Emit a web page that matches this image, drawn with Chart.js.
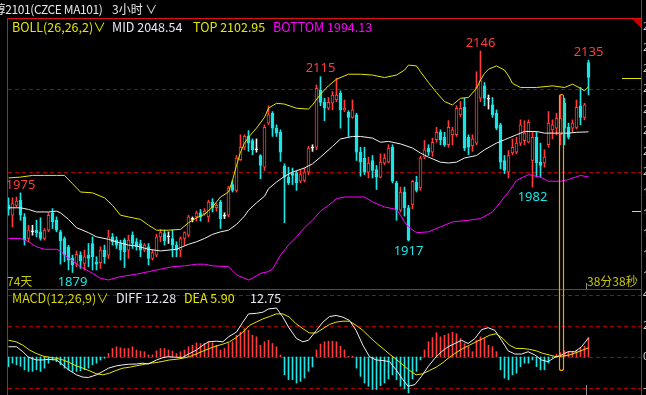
<!DOCTYPE html>
<html>
<head>
<meta charset="utf-8">
<script src="https://cdn.jsdelivr.net/npm/chart.js@4.4.0/dist/chart.umd.min.js"></script>
<style>
html, body { margin: 0; padding: 0; background: #000; overflow: hidden; }
#wrap { position: relative; width: 646px; height: 395px; overflow: hidden; background: #000; }
#cv { position: absolute; left: 0; top: 0; }
.t { position: absolute; white-space: nowrap; font: 12.5px "Noto Sans CJK SC", "Noto Sans", sans-serif; line-height: 14px; }
</style>
</head>
<body>
<div id="wrap">
  <canvas id="cv" width="646" height="395"></canvas>
  <div class="t" style="left:-18px;top:2px;color:#e6e6e6;font-size:12px;letter-spacing:-0.4px">甲醇2101(CZCE MA101)</div>
  <div class="t" style="left:112px;top:2px;color:#e6e6e6;font-size:12px">3小时 ∨</div>
  <div class="t" style="left:12px;top:20px;color:#e6e600">BOLL(26,26,2)∨</div>
  <div class="t" id="lblMid" style="left:112px;top:20px;color:#e8e8f4"></div>
  <div class="t" id="lblTop" style="left:193px;top:20px;color:#e6e600"></div>
  <div class="t" id="lblBot" style="left:273px;top:20px;color:#ff00ff"></div>
  <div class="t" style="left:7px;top:274px;color:#c8c800;font-size:12px">74天</div>
  <div class="t" style="left:587px;top:274px;color:#c8c800;font-size:12px">38分38秒</div>
  <div class="t" style="left:12px;top:291px;color:#d6d600">MACD(12,26,9)∨</div>
  <div class="t" id="lblDiff" style="left:116px;top:291px;color:#e8e8f4"></div>
  <div class="t" id="lblDea" style="left:184px;top:291px;color:#e6e600"></div>
  <div class="t" id="lblHist" style="left:250px;top:291px;color:#e8e8f4"></div>
</div>
<script>
// K线 (3小时)
const opens = [
  1960,1948,1960,1966,1946,1920,1928,1930,1928,1920,
  1930,1951,1942,1928,1920,1910,1896,1890,1900,1890,
  1900,1914,1892,1891,1906,1900,1922,1918,1914,1918,
  1906,1924,1916,1914,1906,1910,1896,1900,1922,1926,
  1922,1920,1912,1906,1920,1924,1943,1946,1951,1950,
  1946,1964,1957,1964,1947,1948,1985,1978,2015,2030,
  2043,2038,2027,2020,2006,2059,2071,2053,2048,2007,
  1994,1999,1999,1989,1990,2000,2029,2030,2099,2084,
  2077,2083,2087,2095,2075,2072,2066,2069,2024,2017,
  2000,2014,2003,1994,2011,2012,2030,1987,1954,1976,
  1957,1961,1988,1981,2018,2029,2024,2039,2048,2042,
  2033,2045,2045,2069,2078,2042,2032,2035,2089,2104,
  2088,2081,2071,2057,2014,2000,2023,2024,2035,2038,
  2036,2014,2042,2012,2011,2033,2051,2053,2045,2083,
  2054,2053,2054,2080,2066,2132
];
const highs = [
  1969,1969,1970,1975,1950,1936,1936,1942,1945,1932,
  1951,1956,1946,1930,1922,1912,1900,1905,1904,1906,
  1914,1922,1898,1910,1912,1930,1926,1922,1918,1920,
  1924,1928,1920,1918,1914,1914,1906,1925,1931,1930,
  1928,1930,1916,1922,1928,1948,1946,1953,1955,1956,
  1966,1968,1962,1966,1951,1983,1990,2020,2045,2045,
  2050,2040,2040,2021,2057,2080,2073,2057,2051,2010,
  2006,2005,2001,2002,2005,2031,2033,2105,2115,2089,
  2090,2097,2113,2098,2087,2074,2087,2071,2030,2030,
  2018,2020,2008,2022,2022,2033,2033,1989,1982,1982,
  1960,1990,1995,2019,2038,2033,2041,2054,2051,2048,
  2062,2054,2080,2085,2089,2045,2045,2121,2146,2108,
  2093,2090,2075,2059,2020,2026,2040,2042,2063,2062,
  2063,2048,2048,2035,2027,2073,2063,2071,2093,2089,
  2059,2063,2087,2102,2083,2135
];
const lows = [
  1948,1934,1958,1942,1912,1916,1924,1922,1918,1918,
  1928,1932,1928,1889,1892,1882,1879,1886,1884,1882,
  1886,1882,1882,1884,1890,1896,1912,1908,1894,1885,
  1896,1908,1906,1898,1904,1888,1894,1898,1916,1912,
  1914,1898,1898,1898,1912,1922,1940,1941,1941,1948,
  1940,1952,1953,1932,1944,1946,1976,1976,2014,2027,
  2025,2021,2024,1992,2002,2057,2043,2043,2013,1939,
  1985,1985,1978,1987,1988,1997,2025,2027,2080,2062,
  2075,2075,2085,2053,2073,2043,2065,2014,1995,1997,
  1993,1993,1979,1993,2009,2011,1987,1942,1952,1947,
  1917,1956,1976,1978,2016,2020,2019,2036,2033,2031,
  2030,2033,2043,2067,2026,2021,2025,2033,2085,2080,
  2076,2066,2051,2004,1998,1993,2021,2022,2032,2033,
  2035,1982,1994,1994,2006,2030,2040,2045,2033,2033,
  2040,2048,2052,2057,2063,2093
];
const closes = [
  1955,1962,1965,1948,1918,1930,1928,1927,1920,1930,
  1948,1940,1930,1917,1900,1894,1888,1901,1893,1898,
  1896,1898,1889,1906,1898,1922,1916,1912,1906,1904,
  1918,1914,1910,1906,1912,1896,1903,1922,1927,1917,
  1922,1912,1906,1920,1927,1946,1943,1951,1946,1953,
  1964,1957,1960,1944,1947,1981,1978,2017,2030,2043,
  2035,2027,2027,2008,2054,2069,2053,2047,2024,1994,
  1987,1996,1987,1997,2000,2029,2029,2101,2084,2077,
  2084,2093,2093,2075,2077,2066,2075,2024,2012,2000,
  2011,2002,1994,2012,2017,2029,1989,1954,1976,1957,
  1918,1989,1978,2017,2027,2024,2036,2048,2039,2033,
  2054,2051,2077,2077,2029,2030,2040,2102,2110,2089,
  2088,2069,2053,2012,2002,2020,2030,2035,2057,2047,
  2060,2042,2011,2008,2018,2059,2057,2065,2065,2053,
  2042,2059,2078,2066,2081,2114
];

// BOLL(26,26,2) 三条线，按K线序号取点
const topIdx = [0,3,6,9,12,14,16,18,21,24,26,28,30,33,35,37,40,43,45,47,49,51,53,55,56,57,58,59,60,62,
  64,65,67,69,72,75,76,78,80,82,85,88,91,94,97,99,100,102,103,105,107,109,111,113,115,117,118,119,120,122,
  124,125,126,128,132,136,139,141,143,144,145];
const topVal = [1993,1994,1996,1996,1996,1996,1986,1976,1975,1969,1960,1948,1946,1943,1936,1930,1930,1931,1939,1945,
  1949,1958,1970,1976,1990,2008,2024,2035,2042,2053,2066,2077,2083,2082,2077,2076,2081,2094,2104,2112,
  2118,2118,2117,2114,2117,2123,2129,2128,2121,2108,2096,2085,2081,2089,2090,2101,2111,2119,2124,2128,
  2123,2116,2107,2102,2102,2104,2102,2106,2101,2098,2102.95];
const midIdx = [0,3,5,7,10,12,13,15,17,20,22,25,27,30,32,35,38,42,45,47,49,51,53,55,57,59,60,62,64,65,
  67,69,71,74,76,78,81,83,86,88,91,93,95,98,101,103,105,108,110,112,114,117,119,122,124,127,129,132,134,137,
  140,142,145];
const midVal = [1957,1957,1955,1952,1952,1953,1951,1943,1933,1927,1922,1919,1916,1912,1911,1907,1905,1907,1913,1916,
  1920,1925,1928,1930,1937,1947,1954,1963,1971,1980,1988,1995,2000,2005,2010,2018,2031,2040,2043,2043,
  2041,2036,2037,2034,2029,2023,2018,2012,2011,2012,2017,2020,2027,2035,2039,2045,2049,2049,2047,2047,
  2047,2048,2048.54];
const botIdx = [0,3,5,7,9,12,13,14,16,18,21,23,25,28,32,35,38,41,44,47,49,51,55,57,60,61,63,65,66,68,
  70,72,74,76,78,80,82,84,86,89,91,94,97,98,99,100,102,105,108,111,115,118,121,123,125,127,130,133,135,138,
  140,143,145];
const botVal = [1920,1920,1916,1910,1907,1907,1905,1900,1893,1886,1878,1872,1870,1874,1877,1880,1883,1886,1887,1889,
  1889,1887,1886,1876,1870,1872,1878,1880,1883,1900,1912,1922,1933,1942,1953,1960,1968,1970,1970,1970,
  1964,1958,1955,1948,1940,1934,1927,1928,1934,1940,1942,1944,1952,1964,1976,1990,1997,1994,1989,1989,
  1991,1996,1994.13];

// MACD(12,26,9)
const macdHist = [
  -6.2,-4,-5,-6,-8.3,-9.3,-9.3,-8.3,-9.3,-7.2,
  -4,-2,-3,-5,-7.2,-8.3,-9.3,-9.3,-8.9,-8.3,
  -7.2,-5,-4,-2,-0.8,2.3,5.5,6.6,6,5.5,
  5.5,6.6,4.5,3.8,3.4,1.3,1.3,4,5.5,5.5,
  4.5,3.8,2.3,3.4,4.5,6.6,7.6,9.1,8.7,8.7,
  9.8,9.1,7.6,4.5,5.5,8.7,9.8,14,16,18.3,
  17.2,14,13,7.6,9.8,10.8,8.7,6.6,1.3,-11.5,
  -14.6,-14.6,-16.8,-15.7,-13.6,-9.3,-6.4,4.5,8.3,9.8,
  10.2,10.2,9.8,7,4.5,0.4,0.6,-7.2,-12.5,-16.8,
  -18.9,-21,-21,-18.5,-16.8,-14.2,-11.5,-14.6,-18.9,-20.6,
  -23.1,-14.2,-9.3,-1.9,4.5,9.8,12.5,15.7,13,14,
  15,16,15,11.9,8.7,6.6,3.4,10.8,13,11.9,
  7.6,6.6,3.4,-8.3,-13.6,-14.6,-11.5,-10.4,-6.2,-4,
  -4,-1.9,-6.2,-8.3,-8.3,-4,-0.4,1.9,2.8,4,
  3.4,3.4,4.5,5.5,7,12.75
];
const diffIdx = [0,2,3.6,5,7,8.6,10,12,13.6,15,17,18.6,20,22,23.6,25,27,28.6,30,32,33.6,35,37,38.6,40,42,43.6,45,47,48.6,
  50,52,53.6,55,57,58.6,60,62,63.6,65,67,68.6,70,72,73.6,75,77,78.6,80.25,81.9,83.6,85.25,86.9,88.6,90.25,91.9,93.6,95.25,96.9,98.6,
  99.9,101.6,103.25,104.9,106.6,108.25,109.9,111.6,113.25,114.9,116.6,118.25,119.9,121.6,123.25,124.9,126.6,128.25,129.9,131.6,
  133.25,134.9,136.6,138.25,139.9,141.6,143.25,145];
const diffVal = [6.6,6.6,3.4,-0.2,-1.9,-1.9,-1.5,-1.9,-5.1,-8.3,-11.5,-13,-13.2,-11.5,-9.3,-7.2,-5.7,-5.1,-4.7,-4.5,-4,-4.5,-1.9,-0.4,0.2,-0.2,-0.2,1.9,4.5,7.6,
  9.8,10.2,9.8,13,16.1,22.5,27.8,28.2,28.9,31,31.6,25.7,19.3,11.9,9.8,10.8,17.2,22.5,26.1,26.8,25.7,23.6,17.2,7.6,0.2,-1.9,-2.3,-3,-8.3,-14.6,
  -18.9,-17.8,-12.5,-6.2,-0.8,3.4,6.6,8.7,10.8,8.7,11.9,17.6,18.9,17.2,10.8,4,1.9,1.9,3.4,1.3,
  -1.9,-3,-0.2,1.3,3.4,3.4,6.6,12.28];
const deaIdx = [0,1.9,3.6,5.25,6.9,8.6,10.25,11.9,13.6,15.25,16.9,18.6,20.25,21.9,23.6,25.25,26.9,28.6,30.25,31.9,33.6,35.25,36.9,38.6,40.25,41.9,43.6,45.25,46.9,48.6,
  50.25,51.9,53.6,55.25,56.9,58.6,60.25,61.9,63.6,65.25,66.9,68.6,70.25,71.9,73.6,75.25,76.9,78.6,80.25,81.9,83.6,85.25,86.9,88.6,90.25,91.9,93.6,95.25,96.9,98.6,
  100.25,101.9,103.6,105.25,106.9,108.6,110.25,111.9,113.6,115.25,116.9,118.6,120.25,121.9,123.6,125.25,126.9,128.6,130.25,131.9,
  133.6,135.25,136.9,138.6,140.25,141.9,143.6,145];
const deaVal = [10.8,9.8,7.6,4.5,2.3,0.6,-0.2,-0.8,-1.9,-3.6,-5.7,-7.2,-8.9,-10.8,-11.5,-10.4,-8.7,-7.2,-6.6,-5.7,-4.9,-4,-3.6,-2.8,-1.9,-1.5,-0.8,0.2,1.9,3.8,
  5.5,7,8.3,9.8,12.5,16.1,20.4,22.5,24.6,26.1,27.8,27.8,25.7,21.4,18.3,15.5,15.5,18.3,21,22.5,23.1,23.1,20.4,17.2,13,9.1,5.5,1.9,-1.5,-5.1,
  -8.7,-11.5,-10.8,-8.7,-6.6,-3.6,-0.2,2.8,5.5,7.6,9.8,11.9,14,15,11.9,7.6,5.5,5.5,4.9,4,
  2.3,1.3,0.2,0.6,1.3,2.8,4.5,5.9];

// 高低点标注
const markIdx = [3, 16, 78, 100, 118, 131, 145];
const markSide = ['hi', 'lo', 'hi', 'lo', 'hi', 'lo', 'hi'];

const priceGrid = [2100, 2000];
const macdGrid = [40, 20, 0, -20];
const axisPrices = [2175, 2150, 2125, 2100, 2075, 2050, 2025, 2000, 1975, 1950, 1925, 1900, 1875];
const cursorIdx = 138;      // 橙色光标所在K线
const cursorMacdEnd = -9;   // 光标框下沿(MACD坐标)
const timeMarkIdx = 144.4;
const sideMarkB = 1953;

const RED = '#ff3c3c', CYAN = '#19e6e6', WHITE = '#f0f0f0', YEL = '#e6e600', MAG = '#ff00ff';

document.getElementById('lblMid').textContent = 'MID ' + midVal[midVal.length - 1].toFixed(2);
document.getElementById('lblTop').textContent = 'TOP ' + topVal[topVal.length - 1].toFixed(2);
document.getElementById('lblBot').textContent = 'BOTTOM ' + botVal[botVal.length - 1].toFixed(2);
document.getElementById('lblDiff').textContent = 'DIFF ' + diffVal[diffVal.length - 1].toFixed(2);
document.getElementById('lblDea').textContent = 'DEA ' + deaVal[deaVal.length - 1].toFixed(2);
document.getElementById('lblHist').textContent = macdHist[macdHist.length - 1].toFixed(2);

const kind = closes.map((c, i) => c > opens[i] ? 'up' : (c < opens[i] ? 'dn' : 'flat'));
const wickColor = kind.map(k => k === 'up' ? RED : (k === 'dn' ? CYAN : WHITE));
const bodyFill = kind.map(k => k === 'up' ? '#000' : (k === 'dn' ? CYAN : WHITE));
const pts = (idx, val) => idx.map((x, k) => ({ x: x, y: val[k] }));

function hline(ctx, x1, x2, y) {
  ctx.beginPath(); ctx.moveTo(x1, y); ctx.lineTo(x2, y); ctx.stroke();
}
function vline(ctx, x, y1, y2) {
  ctx.beginPath(); ctx.moveTo(x, y1); ctx.lineTo(x, y2); ctx.stroke();
}

const panelPlugin = {
  id: 'panel',
  beforeDatasetsDraw(chart) {
    const ctx = chart.ctx, yp = chart.scales.y, ym = chart.scales.y2;
    ctx.save();
    ctx.strokeStyle = '#a80000';
    ctx.lineWidth = 1;
    ctx.setLineDash([4, 3]);
    priceGrid.forEach(v => hline(ctx, 8, 641, Math.round(yp.getPixelForValue(v)) + 0.5));
    macdGrid.forEach(v => hline(ctx, 8, 641, Math.round(ym.getPixelForValue(v)) + 0.5));
    ctx.restore();
  },
  afterDatasetsDraw(chart) {
    const ctx = chart.ctx, xs = chart.scales.x, yp = chart.scales.y, ym = chart.scales.y2;
    ctx.save();

    // 边框
    ctx.strokeStyle = '#e01010';
    ctx.lineWidth = 1;
    hline(ctx, 7, 641, 18.5);
    hline(ctx, 7, 641, 289.5);
    vline(ctx, 7.5, 18, 395);
    vline(ctx, 641.5, 0, 395);
    ctx.fillStyle = '#c00000';
    ctx.beginPath(); ctx.moveTo(632, 19); ctx.lineTo(641, 19); ctx.lineTo(641, 28); ctx.closePath(); ctx.fill();

    // 右侧价格刻度(被窗口截断)
    ctx.fillStyle = '#d0d0d0';
    ctx.font = '11px "Noto Sans", sans-serif';
    ctx.textBaseline = 'middle';
    ctx.textAlign = 'left';
    axisPrices.forEach(v => ctx.fillText(String(v), 643, yp.getPixelForValue(v)));
    macdGrid.forEach(v => ctx.fillText(String(v), 643, ym.getPixelForValue(v)));

    // 最新价标记
    ctx.strokeStyle = YEL;
    hline(ctx, 622, 641, Math.round(yp.getPixelForValue(closes[closes.length - 1])) + 0.5);
    hline(ctx, 632, 641, Math.round(yp.getPixelForValue(sideMarkB)) + 0.5);

    // 时间刻度
    ctx.strokeStyle = '#909090';
    const tx = Math.round(xs.getPixelForValue(timeMarkIdx)) + 0.5;
    vline(ctx, tx, 283, 289);
    vline(ctx, tx, 385, 395);

    // 高低点数字
    ctx.font = '13px "Noto Sans", "DejaVu Sans", sans-serif';
    ctx.textAlign = 'center';
    markIdx.forEach((i, k) => {
      const x = xs.getPixelForValue(i);
      if (markSide[k] === 'hi') {
        ctx.fillStyle = RED;
        ctx.fillText(String(highs[i]), x, yp.getPixelForValue(highs[i]) - 8);
      } else {
        ctx.fillStyle = CYAN;
        ctx.fillText(String(lows[i]), x, yp.getPixelForValue(lows[i]) + 10);
      }
    });

    // 光标框
    const cx = Math.round(xs.getPixelForValue(cursorIdx));
    const top = Math.round(yp.getPixelForValue(highs[cursorIdx])) - 1;
    const bot = Math.round(ym.getPixelForValue(cursorMacdEnd));
    const l = cx - 2 + 0.5, r = cx + 3 - 0.5, rad = 2.5;
    ctx.strokeStyle = '#f5a300';
    ctx.lineWidth = 1.2;
    ctx.beginPath();
    ctx.moveTo(l, top + rad);
    ctx.arc(l + rad - 0.5, top + rad, rad - 0.5, Math.PI, 0);
    ctx.lineTo(r, bot - rad);
    ctx.arc(l + rad - 0.5, bot - rad, rad - 0.5, 0, Math.PI);
    ctx.closePath();
    ctx.stroke();

    ctx.restore();
  }
};

new Chart(document.getElementById('cv'), {
  data: {
    datasets: [
      { type: 'line', data: pts(topIdx, topVal), yAxisID: 'y', borderColor: YEL, borderWidth: 1, pointRadius: 0, tension: 0, order: 1 },
      { type: 'line', data: pts(midIdx, midVal), yAxisID: 'y', borderColor: WHITE, borderWidth: 1, pointRadius: 0, tension: 0, order: 1 },
      { type: 'line', data: pts(botIdx, botVal), yAxisID: 'y', borderColor: MAG, borderWidth: 1, pointRadius: 0, tension: 0, order: 1 },
      { type: 'line', data: pts(diffIdx, diffVal), yAxisID: 'y2', borderColor: WHITE, borderWidth: 1, pointRadius: 0, tension: 0, order: 1 },
      { type: 'line', data: pts(deaIdx, deaVal), yAxisID: 'y2', borderColor: YEL, borderWidth: 1, pointRadius: 0, tension: 0, order: 1 },
      {
        type: 'bar', yAxisID: 'y', order: 2,
        data: opens.map((o, i) => ({ x: i, y: [o, closes[i]] })),
        backgroundColor: bodyFill, borderColor: wickColor, borderWidth: 1, borderSkipped: false,
        barThickness: 3, minBarLength: 1, grouped: false
      },
      {
        type: 'bar', yAxisID: 'y', order: 3,
        data: highs.map((h, i) => ({ x: i, y: [lows[i], h] })),
        backgroundColor: wickColor, borderWidth: 0, barThickness: 1, grouped: false
      },
      {
        type: 'bar', yAxisID: 'y2', order: 4,
        data: macdHist.map((v, i) => ({ x: i, y: v })),
        backgroundColor: macdHist.map(v => v >= 0 ? RED : CYAN), borderWidth: 0, barThickness: 1, grouped: false
      }
    ]
  },
  options: {
    responsive: false,
    animation: false,
    devicePixelRatio: 1,
    events: [],
    layout: { padding: 0 },
    plugins: { legend: { display: false }, tooltip: { enabled: false } },
    scales: {
      x: { type: 'linear', min: -2.125, max: 159.375, display: false, offset: false },
      y: { type: 'linear', min: 1731.34, max: 2207.47, display: false },
      y2: { type: 'linear', min: -24.52, max: 230.32, display: false }
    }
  },
  plugins: [panelPlugin]
});
</script>
</body>
</html>
